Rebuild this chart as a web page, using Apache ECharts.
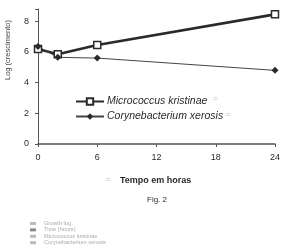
<!DOCTYPE html>
<html>
<head>
<meta charset="utf-8">
<script src="https://cdn.jsdelivr.net/npm/echarts@6/dist/echarts.min.js"></script>
<style>
  html, body { margin: 0; padding: 0; background: #fff; }
  #main { width: 284px; height: 249px; }
</style>
</head>
<body>
<div id="main"></div>
<script>
  // hours
  var hours = [0, 2, 6, 24];
  var micrococcus = [6.2, 5.85, 6.45, 8.45];
  var corynebacterium = [6.35, 5.65, 5.6, 4.8];
  var seriesNames = ['Micrococcus kristinae', 'Corynebacterium xerosis'];
  var footNotes = ['Growth log', 'Time (hours)', 'Micrococcus kristinae', 'Corynebacterium xerosis'];

  function pairs(xs, ys) {
    return xs.map(function (x, i) { return [x, ys[i]]; });
  }

  var chart = echarts.init(document.getElementById('main'));
  var ink = '#2a2a2a';
  var font = 'Liberation Sans';

  var notes = [];
  footNotes.forEach(function (t, i) {
    notes.push({
      type: 'rect', left: 30, top: 222 + i * 6.4,
      shape: { width: 6, height: 3 },
      style: { fill: i === 1 ? '#888' : '#bbb' }
    });
    notes.push({
      type: 'text', left: 44, top: 220.5 + i * 6.4,
      style: { text: t, fontSize: 5.6, fill: '#aaa', fontFamily: font }
    });
  });

  var option = {
    animation: false,
    backgroundColor: '#fff',
    textStyle: { fontFamily: font },
    grid: { left: 38, right: 9, top: 9, bottom: 105 },
    legend: {
      data: seriesNames,
      orient: 'vertical',
      left: 70,
      top: 91,
      itemWidth: 28,
      itemHeight: 8,
      itemGap: 4,
      textStyle: { fontSize: 10.5, fontStyle: 'italic', color: ink, fontFamily: font, padding: [0, 0, 0, -2] }
    },
    xAxis: {
      type: 'value',
      min: 0, max: 24, interval: 6,
      axisLine: { lineStyle: { color: '#555', width: 1.5 } },
      axisTick: { show: true, length: 3, lineStyle: { color: '#555' } },
      axisLabel: { margin: 9, fontSize: 9, color: ink, interval: 0 },
      splitLine: { show: false }
    },
    yAxis: {
      type: 'value',
      min: 0, max: 8.8, interval: 2,
      axisLine: { show: true, lineStyle: { color: '#555', width: 1 } },
      axisTick: { show: true, length: 3, lineStyle: { color: '#555' } },
      axisLabel: {
        margin: 9, fontSize: 9, color: ink, interval: 0,
        formatter: function (v) { return v % 2 === 0 ? String(v) : ''; }
      },
      splitLine: { show: false }
    },
    series: [
      {
        name: seriesNames[0],
        type: 'line',
        data: pairs(hours, micrococcus),
        symbol: 'rect',
        symbolSize: 7,
        itemStyle: { color: '#fff', borderColor: ink, borderWidth: 1.5 },
        lineStyle: { color: ink, width: 2.6 }
      },
      {
        name: seriesNames[1],
        type: 'line',
        data: pairs(hours, corynebacterium),
        symbol: 'diamond',
        symbolSize: 7,
        itemStyle: { color: ink },
        lineStyle: { color: '#444', width: 1 }
      }
    ],
    graphic: [
      {
        type: 'text', x: 8, y: 50, rotation: Math.PI / 2, originX: 0, originY: 0,
        style: {
          text: 'Log (crescimento)', fontSize: 7.5, fill: '#444', fontFamily: font,
          align: 'center', verticalAlign: 'middle'
        }
      },
      { type: 'text', left: 213, top: 95, style: { text: '=', fontSize: 8, fill: '#bbb' } },
      { type: 'text', left: 226, top: 111, style: { text: '=', fontSize: 8, fill: '#bbb' } },
      { type: 'text', left: 106, top: 176, style: { text: '=', fontSize: 8, fill: '#bbb' } },
      {
        type: 'text', left: 120, top: 176,
        style: { text: 'Tempo em horas', fontSize: 9, fontWeight: 'bold', fill: ink, fontFamily: font }
      },
      {
        type: 'text', left: 147, top: 196,
        style: { text: 'Fig. 2', fontSize: 8, fill: ink, fontFamily: font }
      }
    ].concat(notes)
  };

  chart.setOption(option);
</script>
</body>
</html>
